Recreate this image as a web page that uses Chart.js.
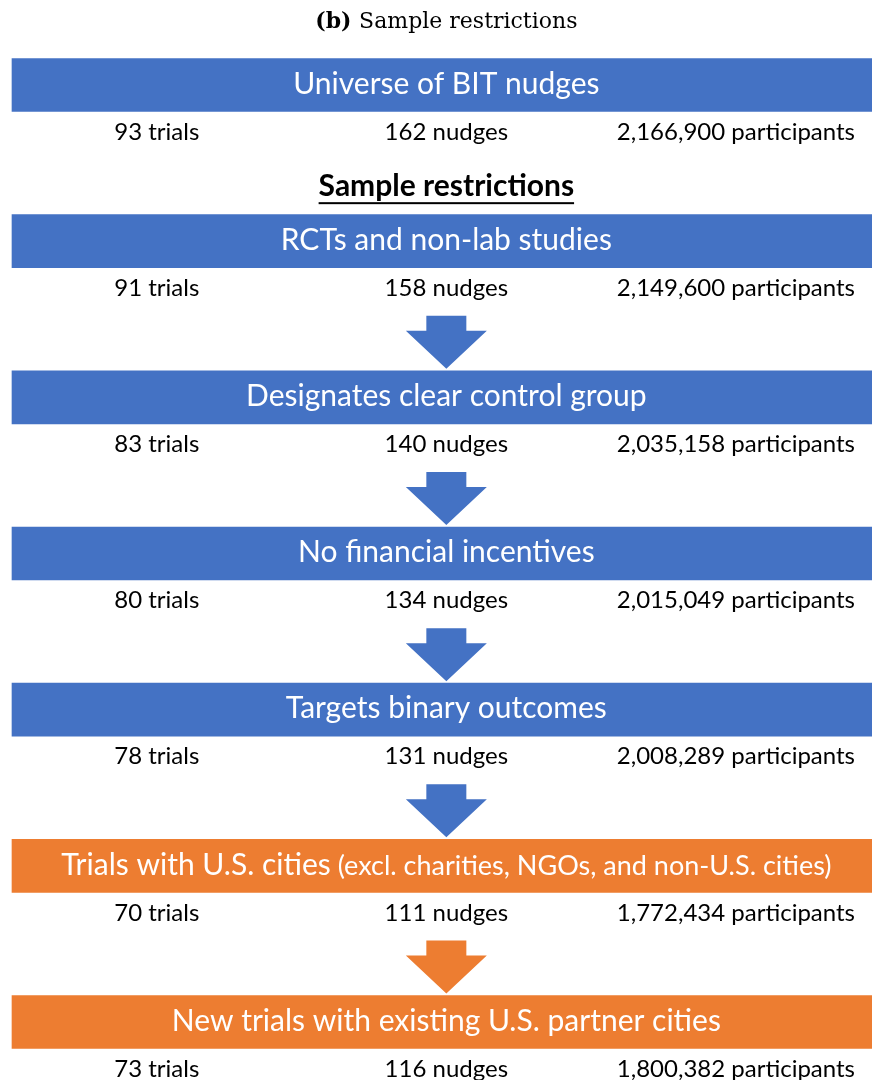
<!DOCTYPE html>
<html>
<head>
<meta charset="utf-8">
<script src="https://cdn.jsdelivr.net/npm/chart.js@4.4.1/dist/chart.umd.min.js"></script>
<style>
  html, body { margin: 0; padding: 0; background: #fff; }
  #wrap { width: 872px; height: 1080px; }
</style>
</head>
<body>
<div id="wrap"><canvas id="flowChart" width="872" height="1080"></canvas></div>
<script>
// ─────────────────────────────────────────────
// DATA – one entry per stage of the sample funnel
// ─────────────────────────────────────────────
const stageLabels = [
  'Universe of BIT nudges',
  'RCTs and non-lab studies',
  'Designates clear control group',
  'No financial incentives',
  'Targets binary outcomes',
  'Trials with U.S. cities',
  'New trials with existing U.S. partner cities'
];
const stageNotes = ['', '', '', '', '', '(excl. charities, NGOs, and non-U.S. cities)', ''];
const stageGroups = ['all', 'all', 'all', 'all', 'all', 'us', 'us'];
const trials = [93, 91, 83, 80, 78, 70, 73];
const nudges = [162, 158, 140, 134, 131, 111, 116];
const participants = [2166900, 2149600, 2035158, 2015049, 2008289, 1772434, 1800382];
const arrowLinks = [[1, 2], [2, 3], [3, 4], [4, 5], [5, 6]];
const figureTag = '(b)';
const figureTitle = 'Sample restrictions';
const sectionTitle = 'Sample restrictions';

const groupColors = { all: '#4472C4', us: '#ED7D31' };
const BOX_H = 53;
const SANS = 'Lato, "Open Sans", sans-serif';

// every box is a full-width floating bar
const boxSpans = stageLabels.map(() => [0, 1]);

const fmt = n => n.toLocaleString('en-US');

// ─────────────────────────────────────────────
// TEXT + ARROWS drawn on top of the bars
// ─────────────────────────────────────────────
const flowDecor = {
  id: 'flowDecor',
  afterDatasetsDraw(chart) {
    const { ctx, scales: { x } } = chart;
    const bars = chart.getDatasetMeta(0).data;
    const cx = x.getPixelForValue(0.5);

    ctx.save();

    // arrows between consecutive boxes
    arrowLinks.forEach(([from, to]) => {
      const top = bars[to].y - BOX_H / 2;
      ctx.fillStyle = groupColors[stageGroups[from]];
      ctx.beginPath();
      ctx.moveTo(cx - 20, top - 55);
      ctx.lineTo(cx + 20, top - 55);
      ctx.lineTo(cx + 20, top - 40);
      ctx.lineTo(cx + 40.5, top - 40);
      ctx.lineTo(cx, top - 2);
      ctx.lineTo(cx - 40.5, top - 40);
      ctx.lineTo(cx - 20, top - 40);
      ctx.closePath();
      ctx.fill();
    });

    ctx.textBaseline = 'middle';

    // box titles and count rows
    bars.forEach((bar, i) => {
      ctx.fillStyle = '#ffffff';
      ctx.textAlign = 'left';
      const mainFont = `30px ${SANS}`;
      const noteFont = `27px ${SANS}`;
      ctx.font = mainFont;
      const mainW = ctx.measureText(stageLabels[i]).width;
      let noteW = 0;
      if (stageNotes[i]) {
        ctx.font = noteFont;
        noteW = ctx.measureText(' ' + stageNotes[i]).width;
      }
      const tx = cx - (mainW + noteW) / 2;
      ctx.font = mainFont;
      ctx.fillText(stageLabels[i], tx, bar.y - 1);
      if (stageNotes[i]) {
        ctx.font = noteFont;
        ctx.fillText(' ' + stageNotes[i], tx + mainW, bar.y);
      }

      ctx.fillStyle = '#000000';
      ctx.textAlign = 'center';
      ctx.font = `24px ${SANS}`;
      const ry = bar.y + 47;
      ctx.fillText(`${trials[i]} trials`, x.getPixelForValue(1 / 6), ry);
      ctx.fillText(`${nudges[i]} nudges`, x.getPixelForValue(1 / 2), ry);
      ctx.fillText(`${fmt(participants[i])} participants`, x.getPixelForValue(5 / 6), ry);
    });

    // section heading (bold, underlined)
    const hy = bars[1].y - 55;
    ctx.fillStyle = '#000000';
    ctx.font = `bold 30px ${SANS}`;
    ctx.textAlign = 'center';
    ctx.fillText(sectionTitle, cx, hy);
    const hw = ctx.measureText(sectionTitle).width;
    ctx.fillRect(cx - hw / 2, hy + 16, hw, 2);

    // figure caption "(b) Sample restrictions"
    const ty = bars[0].y - 63;
    const serif = '"DejaVu Serif", "Liberation Serif", serif';
    ctx.font = `bold 22px ${serif}`;
    const tagW = ctx.measureText(figureTag + ' ').width;
    ctx.font = `22px ${serif}`;
    const titleW = ctx.measureText(figureTitle).width;
    const sx = cx - (tagW + titleW) / 2;
    ctx.textAlign = 'left';
    ctx.font = `bold 22px ${serif}`;
    ctx.fillText(figureTag + ' ', sx, ty);
    ctx.font = `22px ${serif}`;
    ctx.fillText(figureTitle, sx + tagW, ty);

    ctx.restore();
  }
};

new Chart(document.getElementById('flowChart').getContext('2d'), {
  type: 'bar',
  data: {
    labels: stageLabels,
    datasets: [{
      data: boxSpans,
      backgroundColor: stageGroups.map(g => groupColors[g]),
      barThickness: BOX_H,
      borderWidth: 0,
      borderSkipped: false,
      clip: false
    }]
  },
  options: {
    indexAxis: 'y',
    responsive: false,
    animation: false,
    layout: { padding: { top: 85, bottom: 58, left: 12, right: 0 } },
    scales: {
      x: { type: 'linear', min: 0, max: 0.99, display: false },
      y: { type: 'category', offset: false, display: false, grid: { display: false } }
    },
    plugins: {
      legend: { display: false },
      tooltip: { enabled: false }
    }
  },
  plugins: [flowDecor]
});
</script>
</body>
</html>
